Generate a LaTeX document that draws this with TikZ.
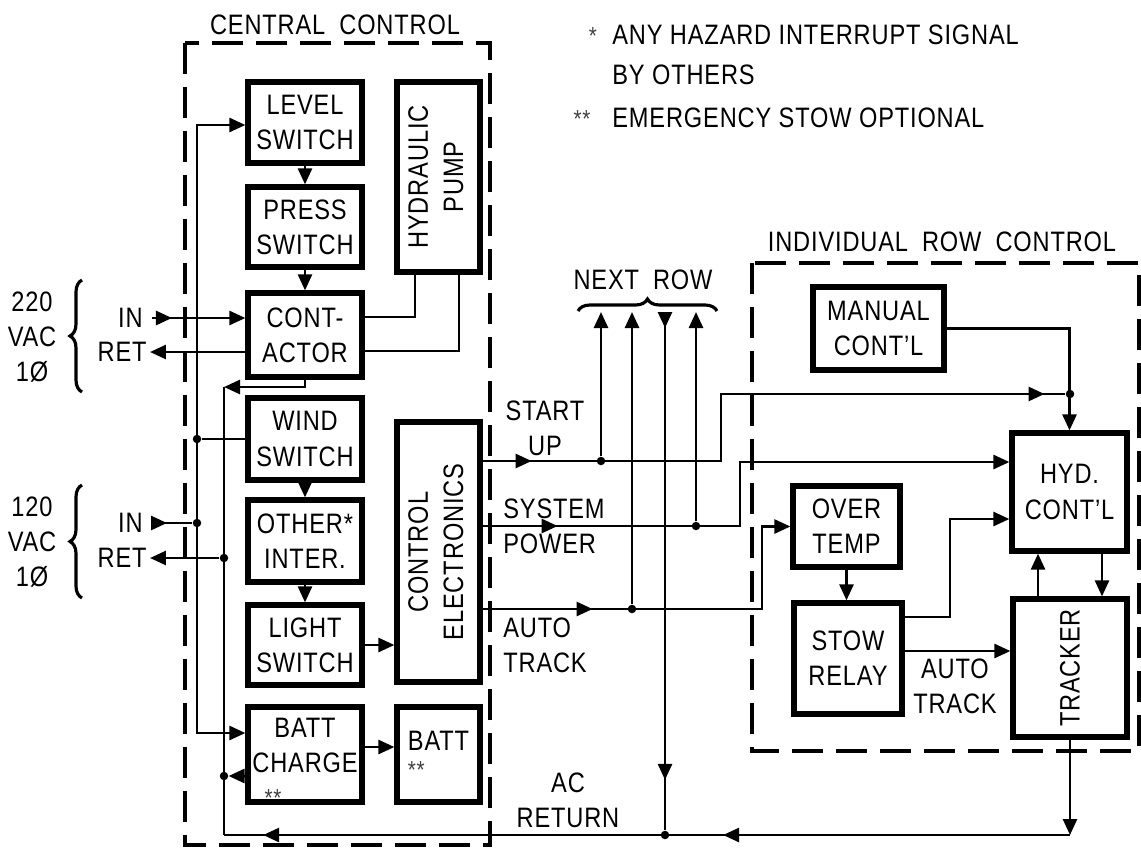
\documentclass[tikz,border=0pt]{standalone}
\usepackage{fontspec}
\setmainfont{Liberation Sans}[FakeStretch=0.84, LetterSpace=3]
\usetikzlibrary{arrows.meta, decorations.pathreplacing, decorations.markings}

\begin{document}
\begin{tikzpicture}[x=0.02cm, y=-0.02cm,
  font=\fontsize{16}{20}\selectfont,
  block/.style={draw, line width=3pt, align=center, inner sep=0pt},
  zone/.style={line width=1.8pt, dash pattern=on 0.62cm off 0.26cm},
  wire/.style={line width=1.5pt},
  arr/.style={wire, -{Triangle[length=0.32cm, width=0.28cm]}},
  arrboth/.style={wire, {Triangle[length=0.32cm, width=0.28cm]}-{Triangle[length=0.32cm, width=0.28cm]}},
  midarr/.style={postaction={decorate, decoration={markings,
      mark=at position #1 with {\arrow{Triangle[length=0.32cm, width=0.28cm]}}}}},
  junction/.style={circle, fill, inner sep=0pt, minimum size=0.17cm},
  lbl/.style={inner sep=0pt, align=center},
  bracket/.style={line width=1.8pt, decorate, decoration={brace, amplitude=0.24cm}},
  starmark/.style={inner sep=0pt, font=\fontsize{14}{14}\selectfont, text=black!75}]
  \useasboundingbox (0,0) rectangle (1141,848);

  \draw[zone] (185,43) rectangle (490,845);
  \draw[zone] (752,263) rectangle (1139,751);
  \node[lbl] (cctitle) at (335,25) {CENTRAL\enspace CONTROL};
  \node[lbl] (irtitle) at (942,242) {INDIVIDUAL\enspace ROW\enspace CONTROL};

  \node[starmark] (star1) at (593,36) {*};
  \node[lbl, anchor=west] (note1) at (612,35) {ANY HAZARD INTERRUPT SIGNAL};
  \node[lbl, anchor=west] (note1b) at (612,75) {BY OTHERS};
  \node[starmark] (star2) at (582,119) {**};
  \node[lbl, anchor=west] (note2) at (612,118) {EMERGENCY STOW OPTIONAL};

  \node[block, minimum width=2.28cm, minimum height=1.62cm] (level) at (305,122.5) {LEVEL\\SWITCH};
  \node[block, minimum width=2.28cm, minimum height=1.6cm] (press) at (305,227) {PRESS\\SWITCH};
  \node[block, minimum width=2.28cm, minimum height=1.68cm] (cont) at (305,335) {CONT-\\ACTOR};
  \node[block, minimum width=2.28cm, minimum height=1.64cm] (wind) at (305,439) {WIND\\SWITCH};
  \node[block, minimum width=2.28cm, minimum height=1.64cm] (other) at (305,541) {OTHER*\\INTER.};
  \node[block, minimum width=2.28cm, minimum height=1.6cm] (light) at (305,645) {LIGHT\\SWITCH};
  \node[block, minimum width=2.28cm, minimum height=1.9cm] (battcharge) at (305,754.5) {BATT\\CHARGE\\[-10pt]\mbox{}};
  \node[starmark] (bcstar) at (273,798) {**};
  \node[block, minimum width=1.66cm, minimum height=3.8cm] (pump) at (438.5,177)
    {\rotatebox{90}{\begin{tabular}{@{}c@{}}HYDRAULIC\\PUMP\end{tabular}}};
  \node[block, minimum width=1.66cm, minimum height=5.2cm] (ctrl) at (438.5,552)
    {\rotatebox{90}{\begin{tabular}{@{}c@{}}CONTROL\\ELECTRONICS\end{tabular}}};
  \node[block, minimum width=1.66cm, minimum height=1.9cm, align=left] (batt) at (438.5,754.5)
    {BATT\\[-4pt]{\fontsize{14}{14}\selectfont\color{black!75}**}};

  \node[block, minimum width=2.62cm, minimum height=1.66cm] (manual) at (878.5,328.5) {MANUAL\\CONT'L};
  \node[block, minimum width=2.3cm, minimum height=2.36cm] (hyd) at (1069.5,492) {HYD.\\CONT'L};
  \node[block, minimum width=2.14cm, minimum height=1.62cm] (overtemp) at (846.5,526.5) {OVER\\TEMP};
  \node[block, minimum width=2.16cm, minimum height=2.22cm] (stow) at (848,658.5) {STOW\\RELAY};
  \node[block, minimum width=2.28cm, minimum height=2.76cm] (tracker) at (1070,668) {\rotatebox{90}{TRACKER}};

  \node[lbl] (v220) at (32,337) {220\\VAC\\1Ø};
  \node[lbl] (v120) at (32,542) {120\\VAC\\1Ø};
  \draw[bracket] (82,392) -- (82,280);
  \draw[bracket] (82,598) -- (82,485);
  \node[lbl, anchor=east] (in220) at (143,318) {IN};
  \node[lbl, anchor=east] (ret220) at (147,352) {RET};
  \node[lbl, anchor=east] (in120) at (143,523) {IN};
  \node[lbl, anchor=east] (ret120) at (147,558) {RET};

  \coordinate (ltop) at (197,125);
  \coordinate (lbot) at (197,733);
  \node[junction] (jwind) at (197,439) {};
  \node[junction] (jin120) at (197,523) {};
  \coordinate (rtop) at (224,387);
  \coordinate (rbot) at (224,835);
  \node[junction] (jret120) at (224,558) {};
  \node[junction] (jbatt) at (224,776) {};

  \draw[arrboth] (level.west |- ltop) -- (ltop) -- (lbot) -- (battcharge.west |- lbot);
  \draw[wire] (wind.west) -- (jwind);
  \draw[wire, midarr=0.3cm] ([xshift=0.18cm]in120.east) -- (jin120);
  \draw[arr] (jret120) -- ([xshift=0.06cm]ret120.east);
  \draw[arr, midarr=0.4cm] ([xshift=0.18cm]in220.east) -- (in220 -| cont.west);
  \draw[arr] (ret220 -| cont.west) -- ([xshift=0.06cm]ret220.east);
  \draw[wire] ([yshift=0.36cm]cont.east) -| ([xshift=-0.47cm]pump.south);
  \draw[wire] ([yshift=-0.32cm]cont.east) -| ([xshift=0.41cm]pump.south);
  \draw[arr] (level) -- (press);
  \draw[arr] (press) -- (cont);
  \draw[arr] (wind) -- (other);
  \draw[arr] (other) -- (light);
  \draw[arr] (cont.south) |- (rtop);
  \draw[wire] (rtop) -- (rbot);
  \draw[arr] ([yshift=-0.43cm]battcharge.west) -- (jbatt);
  \draw[arr] (light.east) -- (light.east -| ctrl.west);
  \draw[arr] ([yshift=0.15cm]battcharge.east) -- ([yshift=0.15cm]battcharge.east -| batt.west);

  \node[junction] (jsu) at (601,461) {};
  \node[junction] (jsp) at (696,526) {};
  \node[junction] (jat) at (632,609) {};
  \node[junction] (jac) at (665,835) {};
  \node[junction] (jhyd) at (1070,394) {};
  \coordinate (nr1) at (601,312);
  \coordinate (nr2) at (632,312);
  \coordinate (nr3) at (665,312);
  \coordinate (nr4) at (696,312);
  \coordinate (su) at (721,461);
  \coordinate (sp) at (740,526);
  \coordinate (atk) at (762,609);
  \coordinate (bend) at (950,519);

  \draw[wire, midarr=0.98cm, midarr=12.58cm] (ctrl.east |- jsu) -- (su) |- (jhyd);
  \draw[arr] (manual.east) -| (hyd.north);
  \draw[arr, midarr=1.5cm] (ctrl.east |- jsp) -- (sp) |- ([yshift=0.6cm]hyd.west);
  \draw[arr, midarr=2.2cm] (ctrl.east |- jat) -- (atk) |- (overtemp.west);
  \draw[arr] (jsu) -- (nr1);
  \draw[arr] (jat) -- (nr2);
  \draw[arr] (jsp) -- (nr4);
  \draw[wire, midarr=0.32cm, midarr=9.36cm] (nr3) -- (jac);
  \draw[arr] (tracker.south) -- (tracker.south |- rbot);
  \draw[wire, midarr=6.94cm, midarr=16.14cm] (tracker.south |- rbot) -- (rbot);
  \draw[arr] (overtemp.south) -- (overtemp.south |- stow.north);
  \draw[arr] ([yshift=0.83cm]stow.east) -| (bend) -- (bend -| hyd.west);
  \draw[arr] ([yshift=0.15cm]stow.east) -- ([yshift=0.15cm]stow.east -| tracker.west);
  \draw[arr] ([xshift=-0.64cm]tracker.north) -- ([xshift=-0.64cm]tracker.north |- hyd.south);
  \draw[arr] ([xshift=0.65cm]hyd.south) -- ([xshift=0.65cm]hyd.south |- tracker.north);

  \draw[bracket] (578,311) -- (717,311);
  \node[lbl] (nextrow) at (643,280) {NEXT\enspace ROW};
  \node[lbl] (startup) at (545,428) {START\\UP};
  \node[lbl, anchor=west, align=left] (syspower) at (503,526) {SYSTEM\\POWER};
  \node[lbl, anchor=west, align=left] (autotrack) at (503,645) {AUTO\\TRACK};
  \node[lbl] (acreturn) at (568,800) {AC\\RETURN};
  \node[lbl] (autotrack2) at (955,686) {AUTO\\TRACK};
\end{tikzpicture}
\end{document}
